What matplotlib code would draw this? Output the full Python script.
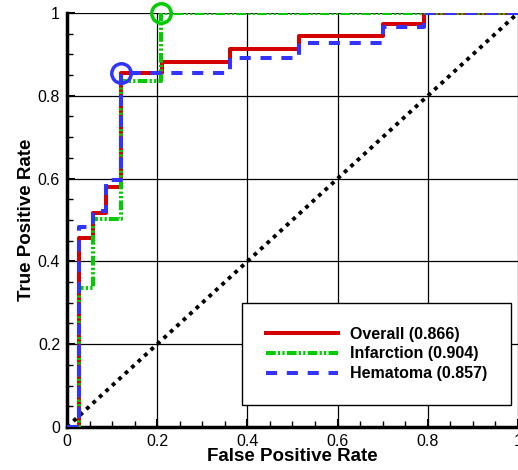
import matplotlib
matplotlib.use('Agg')
import matplotlib.pyplot as plt
from matplotlib.ticker import MultipleLocator

plt.rcParams['font.family'] = ['Liberation Sans', 'DejaVu Sans']
plt.rcParams['lines.scale_dashes'] = False

# ROC step points (false positive rate, true positive rate)
overall_fpr = [0, 0.027, 0.057, 0.087, 0.120, 0.210, 0.361, 0.514, 0.700, 0.792, 1.0]
overall_tpr = [0, 0.456, 0.518, 0.580, 0.854, 0.882, 0.912, 0.944, 0.974, 1.0, 1.0]

infarction_fpr = [0, 0.027, 0.057, 0.120, 0.209, 1.0]
infarction_tpr = [0, 0.335, 0.503, 0.835, 1.0, 1.0]

hematoma_fpr = [0, 0.027, 0.057, 0.087, 0.120, 0.361, 0.514, 0.700, 0.792, 1.0]
hematoma_tpr = [0, 0.483, 0.521, 0.597, 0.854, 0.891, 0.928, 0.966, 1.0, 1.0]

labels = ['Overall (0.866)', 'Infarction (0.904)', 'Hematoma (0.857)']

# operating points marked with circles
hematoma_pt = (0.120, 0.854)
infarction_pt = (0.209, 1.0)

fig = plt.figure(figsize=(5.18, 4.70), dpi=100)
ax = fig.add_axes([0.1293, 0.0915, 0.8707, 0.8809])

red = '#d40000'
green = '#00cc00'
blue = '#3333ff'

ax.plot(overall_fpr, overall_tpr, drawstyle='steps-post', color=red, lw=2.9,
        label=labels[0], zorder=3)
ax.plot(infarction_fpr, infarction_tpr, drawstyle='steps-post', color=green, lw=2.9,
        linestyle=(0, (7, 1.6, 1.6, 1.6, 1.6, 1.6)), label=labels[1], zorder=4)
ax.plot(hematoma_fpr, hematoma_tpr, drawstyle='steps-post', color=blue, lw=2.9,
        linestyle=(0, (8, 7)), label=labels[2], zorder=5)

ax.plot([0, 1], [0, 1], color='black', lw=2.8, linestyle=(0, (2.8, 3.5)),
        dash_capstyle='butt', zorder=2)

ax.plot(*hematoma_pt, marker='o', ms=14, mfc='none', mec=blue, mew=2.5,
        zorder=6, clip_on=False)
ax.plot(*infarction_pt, marker='o', ms=14, mfc='none', mec=green, mew=2.5,
        zorder=6, clip_on=False)

ax.set_xlim(0, 1)
ax.set_ylim(0, 1)
ax.xaxis.set_major_locator(MultipleLocator(0.2))
ax.yaxis.set_major_locator(MultipleLocator(0.2))
ax.xaxis.set_minor_locator(MultipleLocator(0.05))
ax.yaxis.set_minor_locator(MultipleLocator(0.05))
ax.xaxis.set_major_formatter(plt.FuncFormatter(lambda v, p: '%g' % round(v, 2)))
ax.yaxis.set_major_formatter(plt.FuncFormatter(lambda v, p: '%g' % round(v, 2)))

ax.grid(True, which='major', color='black', lw=0.9, zorder=1)
ax.tick_params(which='major', direction='in', length=6, width=1.5,
               labelsize=11.5, pad=5)
ax.tick_params(which='minor', direction='in', length=4, width=1)

for s in ['top', 'right']:
    ax.spines[s].set_visible(False)
ax.spines['left'].set_linewidth(2.5)
ax.spines['bottom'].set_linewidth(2.5)

ax.set_xlabel('False Positive Rate', fontsize=13.5, fontweight='bold')
ax.set_ylabel('True Positive Rate', fontsize=13.5, fontweight='bold')
ax.xaxis.set_label_coords(0.5, -0.05)
ax.yaxis.set_label_coords(-0.071, 0.5)

leg = ax.legend(loc='center', bbox_to_anchor=(0.686, 0.1765), fancybox=False,
                framealpha=1, edgecolor='black', borderpad=1.5, handlelength=4.5,
                handletextpad=0.75, labelspacing=0.3,
                prop={'size': 11.5, 'weight': 'bold'})
leg.get_frame().set_linewidth(1.0)
leg.set_zorder(10)

fig.savefig('out.png', dpi=100)
